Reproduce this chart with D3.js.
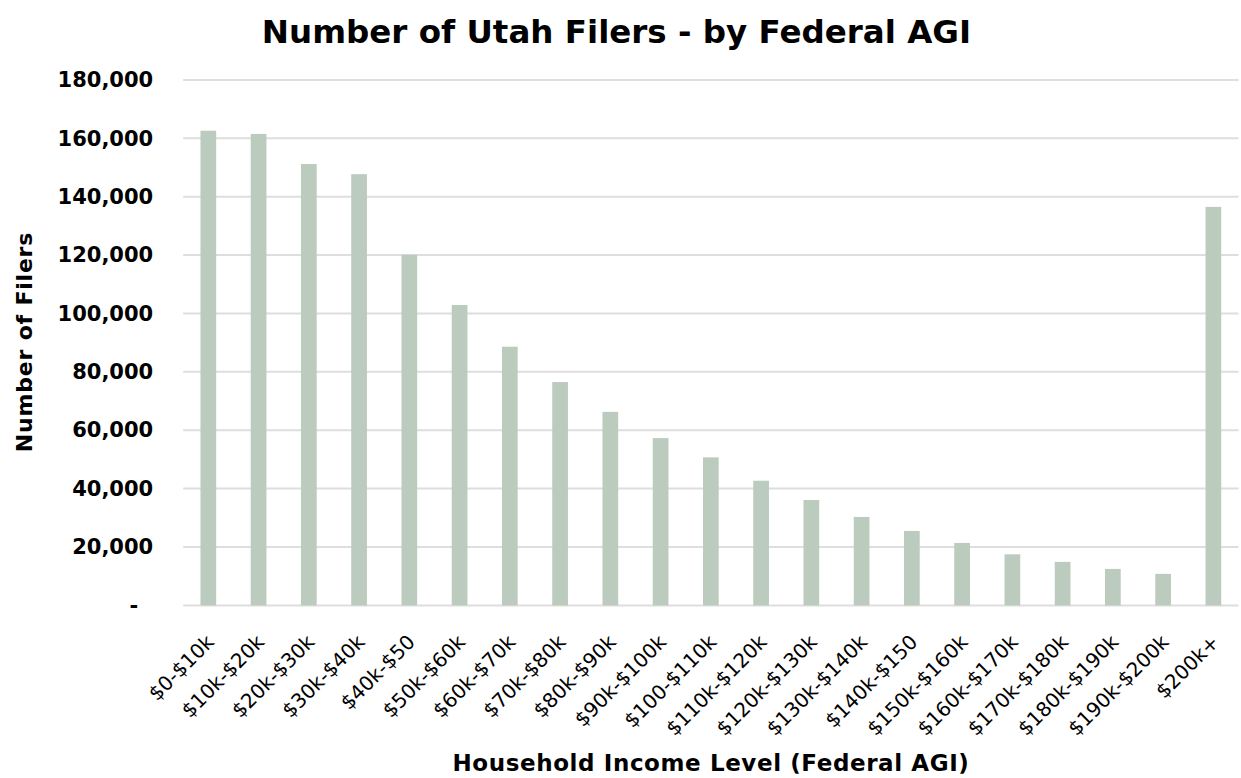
<!DOCTYPE html>
<html>
<head>
<meta charset="utf-8">
<script src="https://cdn.jsdelivr.net/npm/d3@7"></script>
<style>
  html, body { margin: 0; padding: 0; background: #ffffff; }
  svg { display: block; }
</style>
</head>
<body>
<script>
// Income brackets (Federal AGI) and filer counts
const categories = [
  "$0-$10k", "$10k-$20k", "$20k-$30k", "$30k-$40k", "$40k-$50",
  "$50k-$60k", "$60k-$70k", "$70k-$80k", "$80k-$90k", "$90k-$100k",
  "$100-$110k", "$110k-$120k", "$120k-$130k", "$130k-$140k", "$140k-$150",
  "$150k-$160k", "$160k-$170k", "$170k-$180k", "$180k-$190k", "$190k-$200k",
  "$200k+"
];
const filers = [
  162600, 161500, 151200, 147700, 120100,
  102900, 88600, 76500, 66300, 57300,
  50700, 42700, 36100, 30300, 25500,
  21400, 17500, 14900, 12500, 10800,
  136500
];
const yTicks = [0, 20000, 40000, 60000, 80000, 100000, 120000, 140000, 160000, 180000];

const W = 1241, H = 778;
const plot = { left: 183.2, right: 1238.5, top: 79.9, bottom: 605.4 };

const svg = d3.select("body").append("svg")
  .attr("width", W).attr("height", H);

const x = d3.scaleBand()
  .domain(categories)
  .range([plot.left, plot.right])
  .paddingInner(0.6876)
  .paddingOuter(0.3438);

const y = d3.scaleLinear()
  .domain([0, 180000])
  .range([plot.bottom, plot.top]);

const fmt = d3.format(",");

// Horizontal gridlines (the zero line doubles as the category axis line)
svg.append("g")
  .selectAll("line")
  .data(yTicks)
  .join("line")
  .attr("x1", plot.left)
  .attr("x2", plot.right)
  .attr("y1", d => y(d))
  .attr("y2", d => y(d))
  .attr("stroke", "#dedede")
  .attr("stroke-width", 2);

// Y axis labels
const yAxis = svg.append("g")
  .attr("transform", `translate(${plot.left - 30},0)`)
  .call(d3.axisLeft(y).tickValues(yTicks).tickSize(0).tickPadding(0)
    .tickFormat(d => d === 0 ? "-" : fmt(d)));
yAxis.select(".domain").remove();
yAxis.selectAll("text")
  .attr("font-family", "'DejaVu Sans', Verdana, sans-serif")
  .attr("font-weight", "bold")
  .attr("font-size", 21)
  .attr("fill", "#000")
  .attr("dx", d => d === 0 ? -15 : 0);

// Bars
svg.append("g")
  .selectAll("rect")
  .data(filers)
  .join("rect")
  .attr("x", (d, i) => x(categories[i]))
  .attr("width", x.bandwidth())
  .attr("y", d => y(d))
  .attr("height", d => y(0) - y(d))
  .attr("fill", "#bbcbbd");

// Category labels, rotated 45 degrees
const xAxis = svg.append("g")
  .attr("transform", `translate(0,${plot.bottom})`)
  .call(d3.axisBottom(x).tickSize(0).tickPadding(0));
xAxis.select(".domain").remove();
xAxis.selectAll("text")
  .attr("font-family", "'DejaVu Sans', Verdana, sans-serif")
  .attr("font-size", 20)
  .attr("fill", "#000")
  .attr("text-anchor", "end")
  .attr("y", 0)
  .attr("dy", "0.35em")
  .attr("transform", "translate(2,33) rotate(-45)");

// Chart title
svg.append("text")
  .attr("x", 616.5)
  .attr("y", 43)
  .attr("text-anchor", "middle")
  .attr("font-family", "'DejaVu Sans', Verdana, sans-serif")
  .attr("font-weight", "bold")
  .attr("font-size", 32.5)
  .attr("fill", "#000")
  .text("Number of Utah Filers - by Federal AGI");

// Axis titles
svg.append("text")
  .attr("x", 711)
  .attr("y", 771)
  .attr("text-anchor", "middle")
  .attr("font-family", "'DejaVu Sans', Verdana, sans-serif")
  .attr("font-weight", "bold")
  .attr("font-size", 23)
  .attr("letter-spacing", 0.6)
  .attr("fill", "#000")
  .text("Household Income Level (Federal AGI)");

svg.append("text")
  .attr("transform", "translate(32,342) rotate(-90)")
  .attr("text-anchor", "middle")
  .attr("font-family", "'DejaVu Sans', Verdana, sans-serif")
  .attr("font-weight", "bold")
  .attr("font-size", 22)
  .attr("letter-spacing", 0.8)
  .attr("fill", "#000")
  .text("Number of Filers");
</script>
</body>
</html>
